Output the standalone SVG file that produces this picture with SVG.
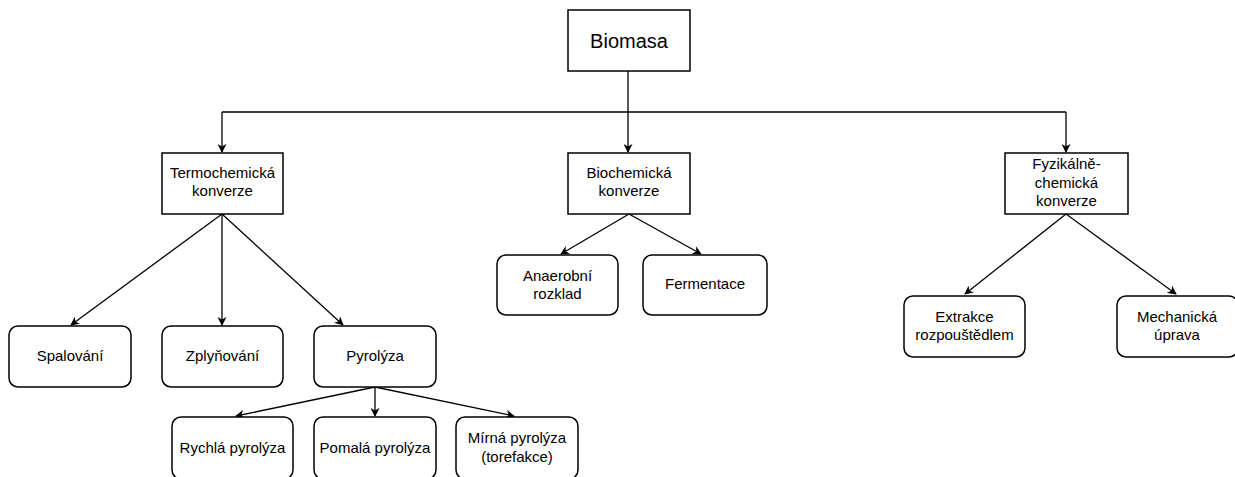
<svg xmlns="http://www.w3.org/2000/svg" width="1235" height="477" viewBox="0 0 1235 477">
<style>
.box{fill:#fff;stroke:#000;stroke-width:1.5}
.t{font-family:"Liberation Sans",Arial,sans-serif;font-size:15px;fill:#000;text-anchor:middle}
.big{font-size:20px}
.c{fill:none;stroke:#000;stroke-width:1.3}
</style>
<defs>
<marker id="a" viewBox="0 0 10 10" refX="9" refY="5" markerWidth="9" markerHeight="9" markerUnits="userSpaceOnUse" orient="auto">
<path d="M0,0 L10,5 L0,10 L3,5 Z" fill="#000"/>
</marker>
</defs>
<rect width="1235" height="477" fill="#fff"/>
<g id="connectors">
<path class="c" d="M628,71 V112"/>
<path class="c" d="M222,112 H1066"/>
<path class="c" d="M222,112 V152" marker-end="url(#a)"/>
<path class="c" d="M628,112 V152" marker-end="url(#a)"/>
<path class="c" d="M1066,112 V152" marker-end="url(#a)"/>
<path class="c" d="M222,214 L71,325" marker-end="url(#a)"/>
<path class="c" d="M222,214 V325" marker-end="url(#a)"/>
<path class="c" d="M222,214 L343,325" marker-end="url(#a)"/>
<path class="c" d="M629,214 L561,254" marker-end="url(#a)"/>
<path class="c" d="M629,214 L701,254" marker-end="url(#a)"/>
<path class="c" d="M1066,214 L965,294" marker-end="url(#a)"/>
<path class="c" d="M1066,214 L1176,294" marker-end="url(#a)"/>
<path class="c" d="M375,387 L236,416" marker-end="url(#a)"/>
<path class="c" d="M375,387 V416" marker-end="url(#a)"/>
<path class="c" d="M375,387 L514,416" marker-end="url(#a)"/>
</g>
<g id="biomasa"><rect class="box" x="568" y="10" width="122" height="61"/><text class="t big" x="629" y="47.5">Biomasa</text></g>
<g id="termo"><rect class="box" x="162" y="153" width="121" height="61"/><text class="t" x="222.5" y="178">Termochemická</text><text class="t" x="222.5" y="196">konverze</text></g>
<g id="bio"><rect class="box" x="568" y="153" width="122" height="61"/><text class="t" x="629" y="178">Biochemická</text><text class="t" x="629" y="196">konverze</text></g>
<g id="fyz"><rect class="box" x="1005" y="153" width="123" height="61"/><text class="t" x="1066.5" y="169">Fyzikálně-</text><text class="t" x="1066.5" y="188">chemická</text><text class="t" x="1066.5" y="206">konverze</text></g>
<g id="spal"><rect class="box" x="9" y="326" width="122" height="61" rx="9"/><text class="t" x="70" y="361">Spalování</text></g>
<g id="zply"><rect class="box" x="162" y="326" width="121" height="61" rx="9"/><text class="t" x="222.5" y="361">Zplyňování</text></g>
<g id="pyro"><rect class="box" x="314" y="326" width="122" height="61" rx="9"/><text class="t" x="375" y="361">Pyrolýza</text></g>
<g id="anaer"><rect class="box" x="497" y="255" width="121" height="60" rx="9"/><text class="t" x="557.5" y="281">Anaerobní</text><text class="t" x="557.5" y="299">rozklad</text></g>
<g id="ferm"><rect class="box" x="643" y="255" width="124" height="60" rx="9"/><text class="t" x="705" y="289">Fermentace</text></g>
<g id="extr"><rect class="box" x="904" y="296" width="121" height="61" rx="9"/><text class="t" x="964.5" y="322">Extrakce</text><text class="t" x="964.5" y="340">rozpouštědlem</text></g>
<g id="mech"><rect class="box" x="1117" y="296" width="121" height="61" rx="9"/><text class="t" x="1177" y="322">Mechanická</text><text class="t" x="1177" y="340">úprava</text></g>
<g id="rychla"><rect class="box" x="172" y="417" width="121" height="62" rx="9"/><text class="t" x="232.5" y="453">Rychlá pyrolýza</text></g>
<g id="pomala"><rect class="box" x="314" y="417" width="122" height="62" rx="9"/><text class="t" x="375" y="453">Pomalá pyrolýza</text></g>
<g id="mirna"><rect class="box" x="456" y="417" width="122" height="62" rx="9"/><text class="t" x="517" y="443">Mírná pyrolýza</text><text class="t" x="517" y="462">(torefakce)</text></g>
</svg>
